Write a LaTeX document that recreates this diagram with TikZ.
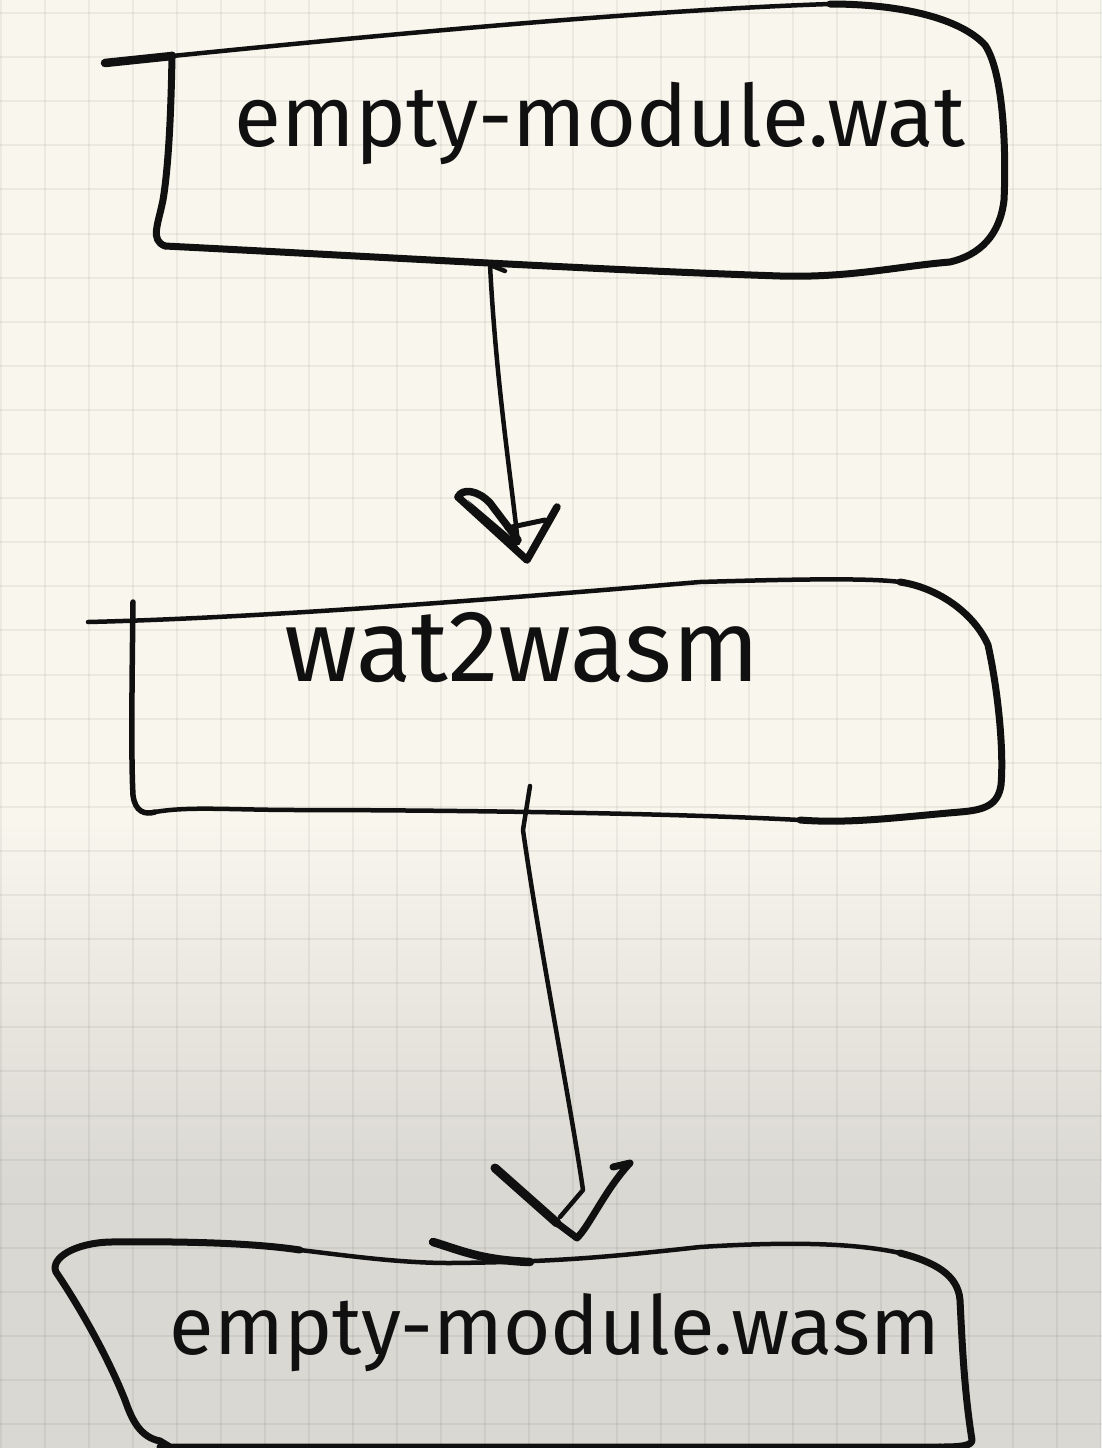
\documentclass[tikz,border=0pt]{standalone}
\usepackage{graphicx}
\usepackage{fontspec}
\setmainfont{Fira Sans}
\definecolor{paper}{RGB}{248,246,237}
\definecolor{papergray}{RGB}{218,216,210}
\definecolor{ink}{RGB}{16,16,16}
\begin{document}
\begin{tikzpicture}[x=1pt,y=-1pt,line cap=round,line join=round,
  pen/.style={draw=ink,line width=7pt},
  thinpen/.style={draw=ink,line width=4.5pt},
  gridline/.style={draw=black,opacity=0.05,line width=2pt},
  hand/.style={text=ink,inner sep=0pt,font=\rmfamily}]
\useasboundingbox (0,0) rectangle (1101,1448);
% paper
\fill[paper] (0,0) rectangle (1101,1448);
\shade[top color=paper,bottom color=papergray] (0,820) rectangle (1101,1180);
\fill[papergray] (0,1179.5) rectangle (1101,1448);
\foreach \i in {0,...,25} \draw[gridline] ({1+44*\i},0) -- ++(0,1448);
\foreach \i in {0,...,32} \draw[gridline] (0,{13+44.1*\i}) -- ++(1101,0);

% ---------- box 1 ----------
\draw[pen,line width=8.5pt] (105,63) -- (172,56);
\draw[thinpen] (172,56) .. controls (400,33) and (650,10) .. (830,4);
\draw[pen] (830,4) .. controls (900,4) and (960,18) .. (985,45)
  .. controls (1005,75) and (1006,160) .. (1004,200)
  .. controls (1000,235) and (980,255) .. (950,262)
  .. controls (900,266) and (850,278) .. (780,276)
  .. controls (600,270) and (400,258) .. (165,246);
\draw[pen] (172,55) .. controls (171,120) and (168,170) .. (163,200)
  .. controls (158,225) and (150,240) .. (165,246);
\node[hand] (t1) at (600,123) {\resizebox{730pt}{!}{empty-module.wat}};

% ---------- box 2 ----------
\draw[thinpen] (88,622) .. controls (250,618) and (450,603) .. (700,582)
  .. controls (800,579) and (870,578) .. (900,582);
\draw[pen] (900,582) .. controls (940,588) and (975,615) .. (988,645)
  .. controls (998,690) and (1004,750) .. (1001,785)
  .. controls (998,805) and (985,810) .. (960,812)
  .. controls (900,817) and (850,824) .. (800,820);
\draw[thinpen] (800,820) .. controls (650,812) and (400,810) .. (300,810)
  .. controls (230,810) and (190,806) .. (155,812);
\draw[pen,line width=5.5pt] (133,602) .. controls (132,680) and (131,760) .. (133,795)
  .. controls (135,812) and (145,815) .. (155,812);
\node[hand] (t2) at (522,648) {\resizebox{475pt}{!}{wat2wasm}};

% ---------- box 3 ----------
\draw[pen] (160,1441) .. controls (140,1437) and (132,1420) .. (125,1400)
  .. controls (105,1350) and (75,1300) .. (56,1272)
  .. controls (50,1258) and (75,1243) .. (110,1242)
  .. controls (200,1241) and (260,1244) .. (300,1250);
\draw[thinpen] (300,1250) .. controls (350,1256) and (400,1263) .. (450,1263)
  .. controls (550,1262) and (600,1258) .. (700,1247)
  .. controls (780,1242) and (850,1242) .. (900,1253);
\draw[pen,line width=8.5pt] (433,1242) .. controls (460,1250) and (480,1260) .. (530,1262);
\draw[pen] (900,1253) .. controls (935,1262) and (958,1275) .. (960,1300)
  .. controls (962,1340) and (964,1390) .. (972,1440)
  .. controls (972,1446) and (960,1447) .. (940,1447);
\draw[pen] (940,1447) -- (160,1447) (160,1441) -- (170,1447);
\node[hand] (t3) at (555,1333) {\resizebox{770pt}{!}{empty-module.wasm}};

% ---------- connectors ----------
\coordinate (a1s) at (490,265);
\coordinate (a1e) at (527,560);
\coordinate (a2s) at (530,786);
\coordinate (a2e) at (577,1238);

\draw[thinpen] (505,271) -- (a1s) .. controls (496,380) and (510,470) .. (518,543);
\draw[pen,line width=7.5pt] (458,497) .. controls (462,488) and (478,490) .. (490,503) -- (518,540);
\draw[pen,line width=7.5pt] (458,497) -- (a1e) -- (557,507);
\draw[pen,line width=5pt] (507,528) -- (545,520);
\fill[ink] (468,500) -- (515,540) -- (520,552) -- (490,525) -- cycle;

\draw[thinpen] (a2s) -- (523,830) .. controls (540,950) and (570,1100) .. (583,1190) -- (560,1217);
\draw[pen,line width=9pt] (495,1168) -- (557,1223);
\draw[pen] (557,1223) -- (a2e) .. controls (590,1225) and (605,1190) .. (630,1163) -- (613,1167);
\end{tikzpicture}
\end{document}
